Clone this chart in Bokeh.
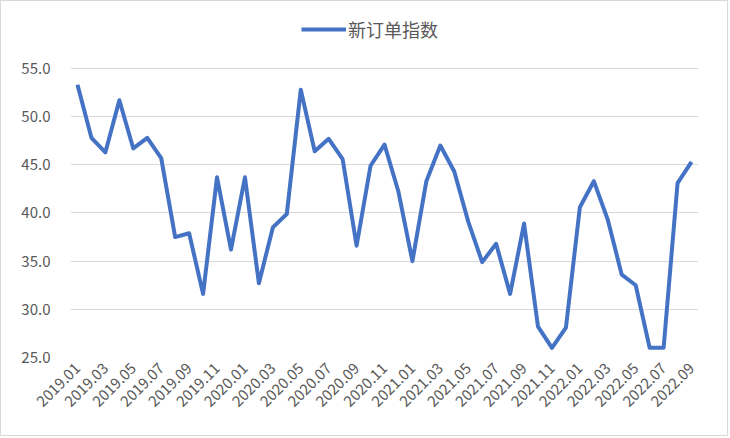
from bokeh.plotting import figure
from bokeh.models import Range1d, FixedTicker, Legend, LegendItem
from bokeh.embed import file_html
from bokeh.resources import INLINE

months = [f"{y}.{m:02d}" for y in (2019, 2020, 2021, 2022) for m in range(1, 13)][:45]
values = [53.3, 47.8, 46.3, 51.7, 46.7, 47.8, 45.7, 37.5, 37.9, 31.6,
          43.7, 36.2, 43.7, 32.7, 38.5, 39.9, 52.8, 46.4, 47.7, 45.6,
          36.6, 44.9, 47.1, 42.2, 35.0, 43.3, 47.0, 44.3, 39.1, 34.9,
          36.8, 31.6, 38.9, 28.2, 26.0, 28.1, 40.6, 43.3, 39.3, 33.6,
          32.5, 26.0, 26.0, 43.1, 45.3]
series_name = "新订单指数"
y_ticks = [25, 30, 35, 40, 45, 50, 55]

xs = list(range(len(months)))
tick_idx = xs[::2]

p = figure(width=728, height=436, output_backend="svg", toolbar_location=None,
           x_range=Range1d(-0.5, len(months) - 0.5), y_range=Range1d(25, 60.29),
           min_border_left=69, min_border_right=31, min_border_top=16, min_border_bottom=80)
p.styles = {"border": "1px solid #d9d9d9", "box-sizing": "border-box"}
p.outline_line_color = None
p.border_fill_color = "white"

r = p.line(xs, values, line_color="#4472C4", line_width=4, line_join="round")

# axes
p.xaxis.ticker = FixedTicker(ticks=tick_idx)
p.xaxis.major_label_overrides = {i: months[i] for i in tick_idx}
p.xaxis.major_label_orientation = 0.785398
p.xaxis.axis_line_color = None
p.xaxis.major_tick_line_color = None
p.xaxis.minor_tick_line_color = None
p.xaxis.major_label_text_color = "#595959"
p.xaxis.major_label_text_font = "Noto Sans CJK SC"
p.xaxis.major_label_text_font_size = "15px"
p.xaxis.major_label_standoff = 2
p.xgrid.grid_line_color = None

p.yaxis.ticker = FixedTicker(ticks=y_ticks)
p.yaxis.major_label_overrides = {t: f"{t:.1f}" for t in y_ticks}
p.yaxis.axis_line_color = None
p.yaxis.major_tick_line_color = None
p.yaxis.minor_tick_line_color = None
p.yaxis.major_label_text_color = "#595959"
p.yaxis.major_label_text_font = "Noto Sans CJK SC"
p.yaxis.major_label_text_font_size = "15px"
p.yaxis.major_label_standoff = 14
p.ygrid.ticker = FixedTicker(ticks=y_ticks)
p.ygrid.grid_line_color = "#d9d9d9"
p.ygrid.grid_line_width = 1

legend = Legend(items=[LegendItem(label=series_name, renderers=[r])],
                orientation="horizontal", location=(231, 315),
                border_line_color=None, background_fill_alpha=0,
                label_text_color="#595959", label_text_font="Noto Sans CJK SC",
                label_text_font_size="18px", glyph_width=45, label_standoff=2,
                padding=0, margin=0)
p.add_layout(legend)

open("out.html", "w").write(file_html(p, INLINE))
